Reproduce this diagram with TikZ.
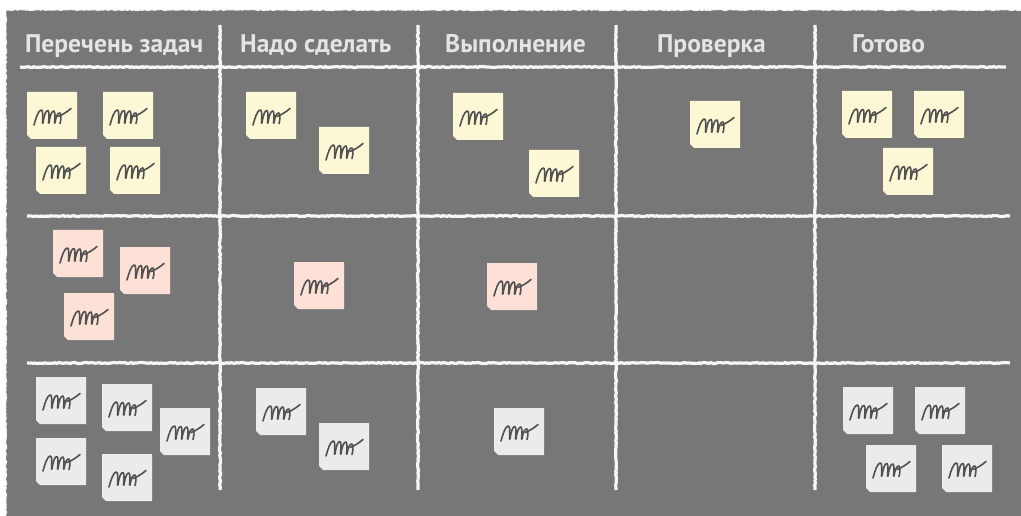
\documentclass[tikz,border=0pt]{standalone}
\usepackage{fontspec}
\setmainfont{PT Sans}
\usetikzlibrary{decorations.pathmorphing}
\definecolor{board}{HTML}{777777}
\definecolor{chalk}{HTML}{F6F6F6}
\definecolor{headtxt}{HTML}{E4E4E4}
\definecolor{noteY}{HTML}{FCF8D6}
\definecolor{noteP}{HTML}{FDE1D6}
\definecolor{noteG}{HTML}{EBEBEB}
\definecolor{ink}{HTML}{505050}
\tikzset{
  chalkline/.style={draw=chalk, line width=3.2pt, decorate,
    decoration={random steps, segment length=2pt, amplitude=0.5pt}},
  chalkedge/.style={draw=chalk, line width=1.2pt, decorate,
    decoration={random steps, segment length=2pt, amplitude=0.6pt}},
  head/.style={anchor=base west, text=headtxt, inner sep=0pt,
    font=\bfseries\fontsize{25.5}{28}\selectfont},
  scribble/.style={draw=ink, line width=1.6pt, line cap=round, line join=round},
}
\newcommand\sticky[3]{%
  \begin{scope}[shift={(#1,#2)}]
    \fill[#3] (0,0) -- (50,0) -- (50,47) -- (4,47) -- (0,43) -- cycle;
    \draw[scribble] (7,33) .. controls (9,26) and (11,19) .. (14,18)
      .. controls (16,17) and (16,23) .. (15.5,31);
    \draw[scribble] (16,31) .. controls (17,23) and (19,18) .. (21,18.5)
      .. controls (22.5,20) and (22,25) .. (21.5,31);
    \draw[scribble] (22,31) .. controls (23,23) and (25,18.5) .. (27,19)
      .. controls (28.5,21) and (28,26) .. (27.5,31);
    \draw[scribble] (28,31) .. controls (29,24) and (31,20.5) .. (33,21)
      .. controls (34.5,23) and (34,28) .. (33,31.5);
    \draw[scribble] (31,24.5) .. controls (35,23) and (40,20) .. (44,16.5);
  \end{scope}}
\begin{document}
\begin{tikzpicture}[x=1pt,y=-1pt]
\useasboundingbox (0,0) rectangle (1021,516);
\fill[white] (0,0) rectangle (1021,516);
\fill[board] (6,10) rectangle (1021,516);
\draw[chalkedge] (6,10) -- (1021,10);
\draw[chalkedge] (6,10) -- (6,516);
% headers
\node[head] (h1) at (25,53) {Перечень задач};
\node[head] (h2) at (240,53) {Надо сделать};
\node[head] (h3) at (445,53) {Выполнение};
\node[head] (h4) at (657,53) {Проверка};
\node[head] (h5) at (852,53) {Готово};
% chalk grid
\draw[chalkline] (220,25) -- (220,490);
\draw[chalkline] (418,25) -- (418,490);
\draw[chalkline] (616,25) -- (616,490);
\draw[chalkline] (815,25) -- (815,490);
\draw[chalkline] (20,67) -- (1006,67);
\draw[chalkline] (27,216) -- (1010,216);
\draw[chalkline] (27,363) -- (1010,363);
% row 1 yellow
\sticky{27}{92}{noteY}
\sticky{103}{92}{noteY}
\sticky{36}{147}{noteY}
\sticky{110}{147}{noteY}
\sticky{246}{92}{noteY}
\sticky{319}{127}{noteY}
\sticky{453}{93}{noteY}
\sticky{529}{150}{noteY}
\sticky{690}{101}{noteY}
\sticky{842}{91}{noteY}
\sticky{914}{91}{noteY}
\sticky{883}{148}{noteY}
% row 2 pink
\sticky{53}{230}{noteP}
\sticky{120}{247}{noteP}
\sticky{64}{293}{noteP}
\sticky{294}{262}{noteP}
\sticky{487}{263}{noteP}
% row 3 gray
\sticky{36}{377}{noteG}
\sticky{102}{384}{noteG}
\sticky{160}{408}{noteG}
\sticky{36}{438}{noteG}
\sticky{102}{454}{noteG}
\sticky{256}{388}{noteG}
\sticky{319}{423}{noteG}
\sticky{494}{408}{noteG}
\sticky{843}{387}{noteG}
\sticky{915}{387}{noteG}
\sticky{866}{445}{noteG}
\sticky{942}{445}{noteG}
\end{tikzpicture}
\end{document}
